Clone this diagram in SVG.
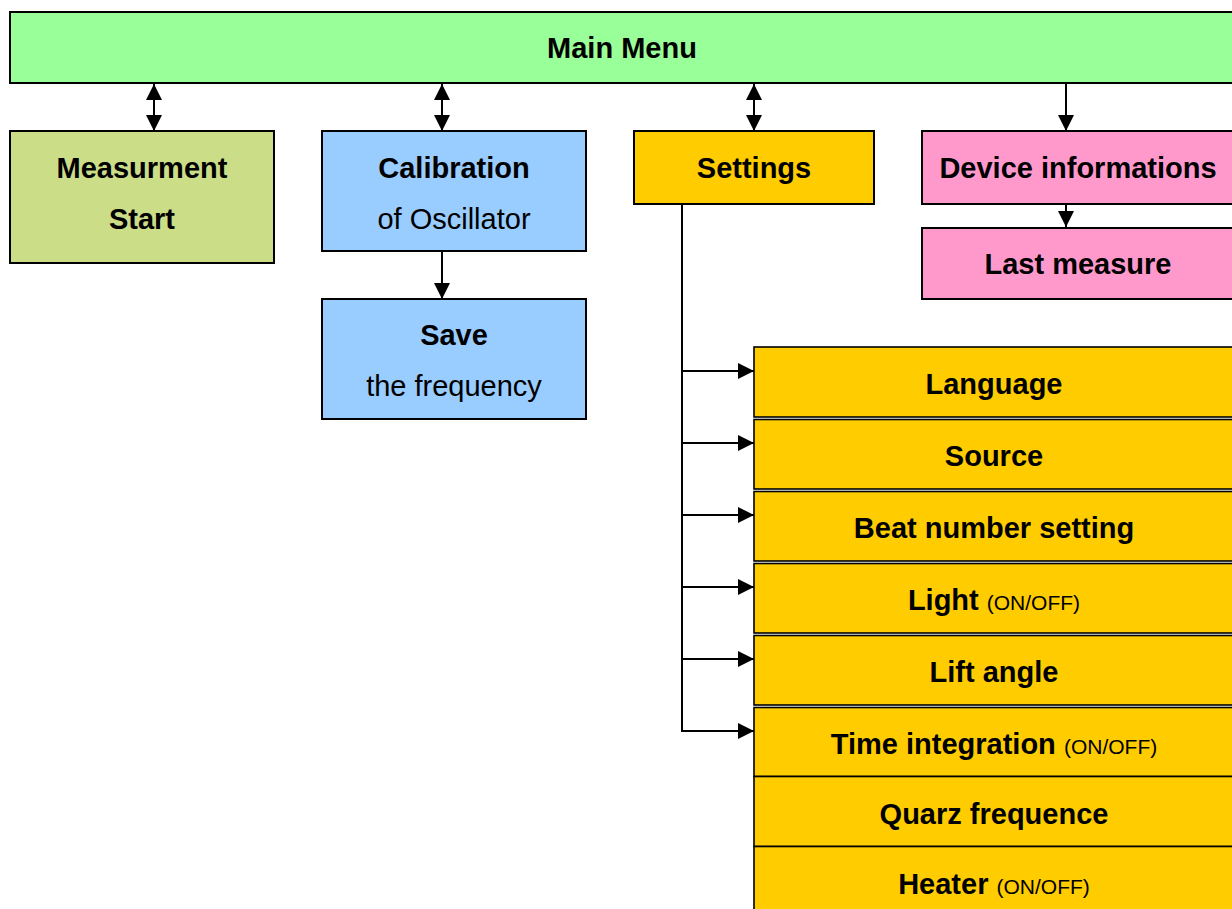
<svg xmlns="http://www.w3.org/2000/svg" width="1232" height="909" viewBox="0 0 1232 909">
<style>
  .box{stroke:#000;stroke-width:2}
  .lst{stroke:#000;stroke-width:1.6}
  .green{fill:#99FF99}
  .olive{fill:#CCDD88}
  .blue{fill:#99CCFF}
  .gold{fill:#FFCC00}
  .pink{fill:#FF99CC}
  text{font-family:"Liberation Sans",Arial,sans-serif;font-size:29px;fill:#000;text-anchor:middle}
  .b{font-weight:bold}
  .s{font-size:21px;font-weight:normal}
  .con{stroke:#000;stroke-width:2;fill:none}
</style>
<defs>
  <marker id="ah" viewBox="0 0 16 16" refX="16" refY="8" markerWidth="16" markerHeight="16" markerUnits="userSpaceOnUse" orient="auto-start-reverse">
    <path d="M0,0 L16,8 L0,16 z" fill="#000"/>
  </marker>
</defs>
<rect width="1232" height="909" fill="#fff"/>

<g id="main-menu">
  <rect class="box green" x="10" y="12" width="1226" height="71"/>
  <text class="b" x="622" y="58">Main Menu</text>
</g>
<g id="measurement-start">
  <rect class="box olive" x="10" y="131" width="264" height="132"/>
  <text class="b" x="142" y="178">Measurment</text>
  <text class="b" x="142" y="229">Start</text>
</g>
<g id="calibration">
  <rect class="box blue" x="322" y="131" width="264" height="120"/>
  <text class="b" x="454" y="178">Calibration</text>
  <text x="454" y="229">of Oscillator</text>
</g>
<g id="save">
  <rect class="box blue" x="322" y="299" width="264" height="120"/>
  <text class="b" x="454" y="345">Save</text>
  <text x="454" y="396">the frequency</text>
</g>
<g id="settings">
  <rect class="box gold" x="634" y="131" width="240" height="73"/>
  <text class="b" x="754" y="178">Settings</text>
</g>
<g id="device-informations">
  <rect class="box pink" x="922" y="131" width="314" height="73"/>
  <text class="b" x="1078" y="178">Device informations</text>
</g>
<g id="last-measure">
  <rect class="box pink" x="922" y="228" width="314" height="71"/>
  <text class="b" x="1078" y="274">Last measure</text>
</g>
<g id="language">
  <rect class="lst gold" x="754" y="347" width="482" height="70"/>
  <text class="b" x="994" y="394">Language</text>
</g>
<g id="source">
  <rect class="lst gold" x="754" y="419.5" width="482" height="69.5"/>
  <text class="b" x="994" y="466">Source</text>
</g>
<g id="beat-number">
  <rect class="lst gold" x="754" y="491.5" width="482" height="69.5"/>
  <text class="b" x="994" y="538">Beat number setting</text>
</g>
<g id="light">
  <rect class="lst gold" x="754" y="563.5" width="482" height="69.5"/>
  <text class="b" x="994" y="610">Light <tspan class="s">(ON/OFF)</tspan></text>
</g>
<g id="lift-angle">
  <rect class="lst gold" x="754" y="635.5" width="482" height="69.5"/>
  <text class="b" x="994" y="682">Lift angle</text>
</g>
<g id="time-integration">
  <rect class="lst gold" x="754" y="707.5" width="482" height="69"/>
  <text class="b" x="994" y="754">Time integration <tspan class="s">(ON/OFF)</tspan></text>
</g>
<g id="quarz">
  <rect class="lst gold" x="754" y="776.5" width="482" height="70"/>
  <text class="b" x="994" y="824">Quarz frequence</text>
</g>
<g id="heater">
  <rect class="lst gold" x="754" y="846.5" width="482" height="80"/>
  <text class="b" x="994" y="894">Heater <tspan class="s">(ON/OFF)</tspan></text>
</g>

<g id="connectors">
  <line class="con" x1="154" y1="84" x2="154" y2="131" marker-start="url(#ah)" marker-end="url(#ah)"/>
  <line class="con" x1="442" y1="84" x2="442" y2="131" marker-start="url(#ah)" marker-end="url(#ah)"/>
  <line class="con" x1="754" y1="84" x2="754" y2="131" marker-start="url(#ah)" marker-end="url(#ah)"/>
  <line class="con" x1="1066" y1="84" x2="1066" y2="131" marker-end="url(#ah)"/>
  <line class="con" x1="1066" y1="205" x2="1066" y2="227" marker-end="url(#ah)"/>
  <line class="con" x1="442" y1="252" x2="442" y2="299" marker-end="url(#ah)"/>
  <path class="con" d="M682,205 V731"/>
  <line class="con" x1="681" y1="371" x2="754" y2="371" marker-end="url(#ah)"/>
  <line class="con" x1="681" y1="443" x2="754" y2="443" marker-end="url(#ah)"/>
  <line class="con" x1="681" y1="515" x2="754" y2="515" marker-end="url(#ah)"/>
  <line class="con" x1="681" y1="587" x2="754" y2="587" marker-end="url(#ah)"/>
  <line class="con" x1="681" y1="659" x2="754" y2="659" marker-end="url(#ah)"/>
  <line class="con" x1="681" y1="731" x2="754" y2="731" marker-end="url(#ah)"/>
</g>
</svg>
